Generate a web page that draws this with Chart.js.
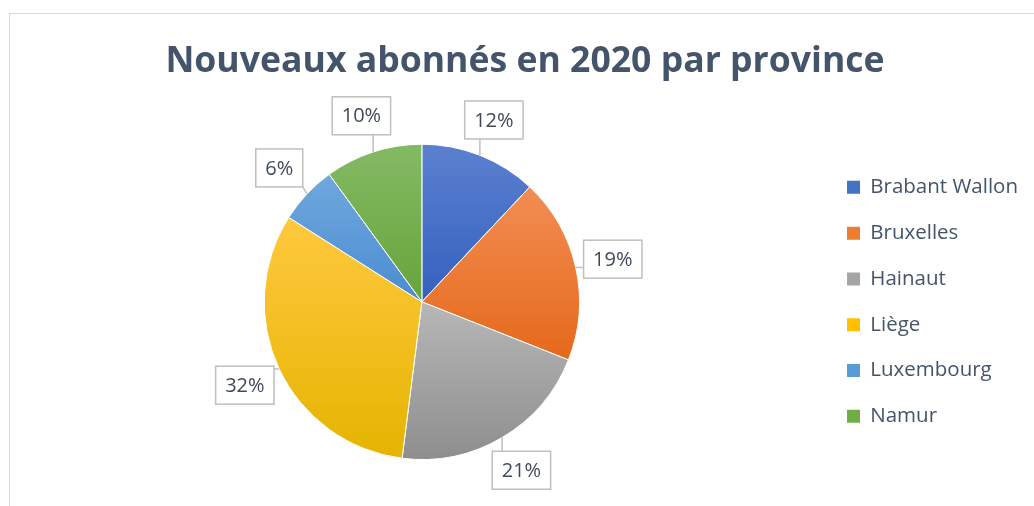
<!DOCTYPE html>
<html>
<head>
<meta charset="utf-8">
<script src="https://cdn.jsdelivr.net/npm/chart.js@4/dist/chart.umd.min.js"></script>
<style>
  html, body { margin: 0; padding: 0; background: #fff; }
  #wrap { position: relative; width: 1034px; height: 506px; overflow: hidden; }
  #frame { position: absolute; left: 9px; top: 13px; width: 1100px; height: 600px; border: 1px solid #d9d9d9; }
  canvas { position: absolute; left: 0; top: 0; }
</style>
</head>
<body>
<div id="wrap">
  <div id="frame"></div>
  <canvas id="myChart" width="1034" height="506"></canvas>
</div>
<script>
const provinces = ["Brabant Wallon", "Bruxelles", "Hainaut", "Liège", "Luxembourg", "Namur"];
const abonnes = [12, 19, 21, 32, 6, 10];

// office-like colours, each slice shaded lighter at the top
const colorsTop = ["#5b80cf", "#f38d55", "#b7b7b7", "#ffc93f", "#70a8de", "#84ba64"];
const colorsBottom = ["#3461bf", "#e5691a", "#8e8e8e", "#e5b400", "#4a8cd0", "#67a43a"];
const legendColors = ["#4472c4", "#ed7d31", "#a5a5a5", "#ffc000", "#5b9bd5", "#70ad47"];

const textColor = "#44546a";
const fontFamily = "'Open Sans', sans-serif";
const total = abonnes.reduce((s, v) => s + v, 0);

// vertical gradient for each slice, sized to the slice itself
const sliceGradient = context => {
  const chart = context.chart;
  const area = chart.chartArea;
  const i = context.dataIndex;
  if (!area) return legendColors[i];
  const r = chart.getDatasetMeta(0).controller.outerRadius || Math.min(area.width, area.height) / 2;
  const cy = (area.top + area.bottom) / 2;
  let start = -Math.PI / 2;
  for (let k = 0; k < i; k++) start += abonnes[k] / total * 2 * Math.PI;
  const end = start + abonnes[i] / total * 2 * Math.PI;
  let top = cy, bottom = cy;
  for (let a = start; a <= end + 0.001; a += 0.005) {
    const py = cy + r * Math.sin(Math.min(a, end));
    top = Math.min(top, py);
    bottom = Math.max(bottom, py);
  }
  const g = chart.ctx.createLinearGradient(0, top, 0, bottom);
  g.addColorStop(0, colorsTop[i]);
  g.addColorStop(1, colorsBottom[i]);
  return g;
};

// percentage callouts with leader lines
const calloutLabels = {
  id: "calloutLabels",
  afterDatasetsDraw(chart) {
    const ctx = chart.ctx;
    ctx.save();
    ctx.font = "20px " + fontFamily;
    ctx.textAlign = "center";
    ctx.textBaseline = "middle";
    chart.getDatasetMeta(0).data.forEach((arc, i) => {
      const {x, y, startAngle, endAngle, outerRadius} = arc;
      const mid = (startAngle + endAngle) / 2;
      const text = Math.round(abonnes[i] / total * 100) + "%";
      const w = ctx.measureText(text).width + 19;
      const h = 38;
      const cx = x + Math.cos(mid) * (outerRadius + 38);
      const cy = y + Math.sin(mid) * (outerRadius + 38);
      const left = cx - w / 2, top = cy - h / 2;
      const ex = x + Math.cos(mid) * outerRadius;
      const ey = y + Math.sin(mid) * outerRadius;
      const px = Math.max(left, Math.min(ex, left + w));
      const py = Math.max(top, Math.min(ey, top + h));
      ctx.strokeStyle = "#bfbfbf";
      ctx.lineWidth = 1.5;
      if (Math.hypot(px - ex, py - ey) > 3) {
        ctx.beginPath();
        ctx.moveTo(ex, ey);
        ctx.lineTo(px, py);
        ctx.stroke();
      }
      ctx.fillStyle = "#fff";
      ctx.fillRect(left, top, w, h);
      ctx.strokeRect(left, top, w, h);
      ctx.fillStyle = "#404a59";
      ctx.fillText(text, cx, cy + 1);
    });
    ctx.restore();
  }
};

const data = {
  labels: provinces,
  datasets: [{
    data: abonnes,
    backgroundColor: sliceGradient,
    borderColor: "#ffffff",
    borderWidth: 1
  }]
};

const config = {
  type: "pie",
  data,
  options: {
    responsive: false,
    animation: false,
    devicePixelRatio: 1,
    layout: { padding: { top: 0, bottom: 46, left: 22, right: 6 } },
    plugins: {
      title: {
        display: true,
        text: "Nouveaux abonnés en 2020 par province",
        color: textColor,
        font: { family: fontFamily, size: 35.6, weight: "bold" },
        padding: { top: 40, bottom: 61 }
      },
      legend: {
        position: "right",
        fullSize: false,
        labels: {
          boxWidth: 13,
          boxHeight: 13,
          padding: 25.3,
          color: textColor,
          font: { family: fontFamily, size: 20.5 },
          generateLabels: chart => provinces.map((p, i) => ({
            text: p,
            fillStyle: legendColors[i],
            strokeStyle: legendColors[i],
            lineWidth: 0,
            fontColor: textColor,
            index: i
          }))
        }
      },
      tooltip: { enabled: false }
    }
  },
  plugins: [calloutLabels]
};

const myChart = new Chart(document.getElementById("myChart"), config);
</script>
</body>
</html>
